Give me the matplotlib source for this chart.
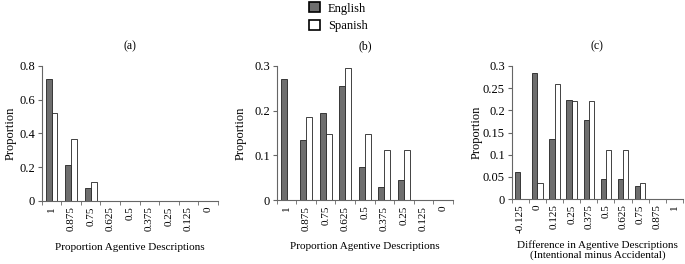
import numpy as np
import matplotlib.pyplot as plt
from matplotlib.patches import Patch

plt.rcParams['font.family'] = ['Liberation Serif', 'DejaVu Serif']
plt.rcParams['font.size'] = 8

# Dados
cat_ab = ['1', '0.875', '0.75', '0.625', '0.5', '0.375', '0.25', '0.125', '0']
cat_c = ['-0.125', '0', '0.125', '0.25', '0.375', '0.5', '0.625', '0.75', '0.875', '1']

eng_a = [0.72, 0.21, 0.075, 0, 0, 0, 0, 0, 0]
spa_a = [0.52, 0.37, 0.11, 0, 0, 0, 0, 0, 0]

eng_b = [0.27, 0.135, 0.195, 0.255, 0.075, 0.03, 0.045, 0, 0]
spa_b = [0, 0.185, 0.148, 0.296, 0.148, 0.111, 0.111, 0, 0]

eng_c = [0.06, 0.284, 0.135, 0.224, 0.179, 0.045, 0.045, 0.03, 0, 0]
spa_c = [0, 0.037, 0.259, 0.222, 0.222, 0.111, 0.111, 0.037, 0, 0]

cor_eng = '#6e6e6e'
bw = 0.3

fig = plt.figure(figsize=(6.85, 2.64), dpi=100)

def painel(pos, cats, eng, spa, ymax, yticks, ylabs, titulo, xlabel):
    ax = fig.add_axes(pos)
    x = np.arange(len(cats))
    ax.bar(x - bw/2, eng, bw, color=cor_eng, edgecolor='#222222', linewidth=0.6)
    ax.bar(x + bw/2, spa, bw, color='white', edgecolor='#222222', linewidth=0.6)
    ax.set_xlim(-0.5, len(cats) - 0.5)
    ax.set_ylim(0, ymax)
    ax.set_yticks(yticks)
    ax.set_yticklabels(ylabs, fontsize=9)
    ax.set_xticks(x)
    ax.set_xticklabels(cats, rotation=90, fontsize=8)
    ax.tick_params(axis='x', length=0, pad=4)
    ax.set_xticks(np.arange(-0.5, len(cats)), minor=True)
    ax.tick_params(axis='x', which='minor', length=3, direction='out', color='#666666')
    ax.tick_params(axis='y', length=3, direction='out', color='#666666', pad=2)
    ax.spines['top'].set_visible(False)
    ax.spines['right'].set_visible(False)
    ax.spines['left'].set_color('#666666')
    ax.spines['bottom'].set_color('#666666')
    ax.set_ylabel('Proportion', fontsize=9)
    ax.set_xlabel(xlabel, fontsize=8, linespacing=1.1)
    ax.set_title(titulo, fontsize=8.5, pad=12)
    return ax

pa = painel([0.061, 0.239, 0.257, 0.511], cat_ab, eng_a, spa_a, 0.8,
            [0, 0.2, 0.4, 0.6, 0.8], ['0', '0.2', '0.4', '0.6', '0.8'],
            '(a)', 'Proportion Agentive Descriptions')
pb = painel([0.404, 0.242, 0.257, 0.508], cat_ab, eng_b, spa_b, 0.3,
            [0, 0.1, 0.2, 0.3], ['0', '0.1', '0.2', '0.3'],
            '(b)', 'Proportion Agentive Descriptions')
pc = painel([0.747, 0.246, 0.25, 0.504], cat_c, eng_c, spa_c, 0.3,
            [0, 0.05, 0.1, 0.15, 0.2, 0.25, 0.3],
            ['0', '0.05', '0.1', '0.15', '0.2', '0.25', '0.3'],
            '(c)', 'Difference in Agentive Descriptions\n(Intentional minus Accidental)')

pa.yaxis.set_label_coords(-0.14, 0.5)
pb.yaxis.set_label_coords(-0.17, 0.5)
pc.yaxis.set_label_coords(-0.17, 0.5)
pa.xaxis.set_label_coords(0.5, -0.31)
pb.xaxis.set_label_coords(0.5, -0.31)
pc.xaxis.set_label_coords(0.5, -0.31)

handles = [Patch(facecolor=cor_eng, edgecolor='black', linewidth=1.2, label='English'),
           Patch(facecolor='white', edgecolor='black', linewidth=1.2, label='Spanish')]
fig.legend(handles=handles, loc='upper left', bbox_to_anchor=(0.435, 1.035), frameon=False,
           fontsize=9, handlelength=0.9, handleheight=0.9, handletextpad=0.6,
           labelspacing=0.4)

fig.savefig('out.png', dpi=100)
